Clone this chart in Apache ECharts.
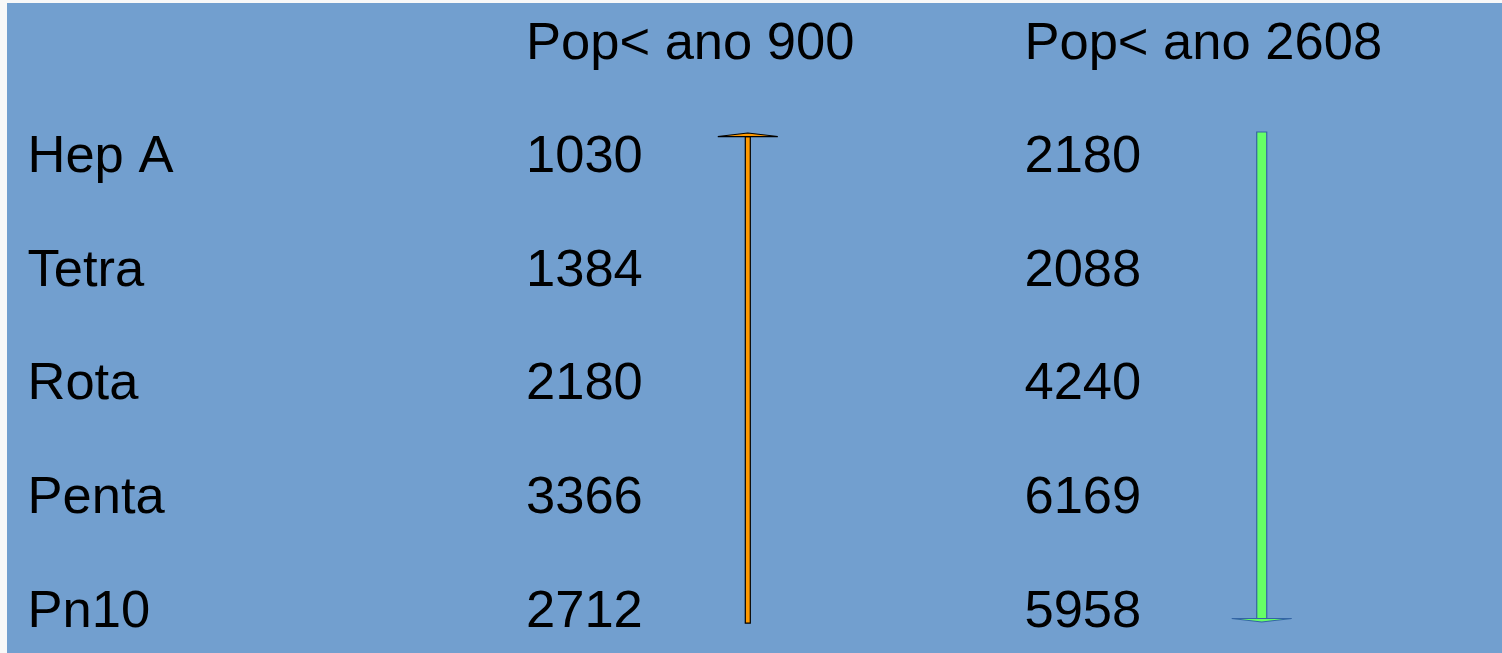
<!DOCTYPE html>
<html>
<head>
<meta charset="utf-8">
<script src="https://cdn.jsdelivr.net/npm/echarts@6/dist/echarts.min.js"></script>
<style>
  html, body { margin: 0; padding: 0; background: #f8f8f8; }
  #chart { width: 1502px; height: 653px; }
</style>
</head>
<body>
<div id="chart"></div>
<script>
// table rows and the two population columns
const rows = ['Hep A', 'Tetra', 'Rota', 'Penta', 'Pn10']
const headers = ['Pop< ano 900', 'Pop< ano 2608']
const pop900 = [1030, 1384, 2180, 3366, 2712]
const pop2608 = [2180, 2088, 4240, 6169, 5958]

// trend arrows: column position, row where the tail sits, row where the head points
const arrowCols = [1.446, 2.477]
const arrowFrom = [4.097, -0.229]
const arrowTo = [-0.22, 4.088]
const arrowFill = ['#ff9900', '#66ff66']
const arrowLine = ['#000000', '#3465a4']
const arrowWidth = [5, 10]

const FONT = 'Liberation Sans, Arial, sans-serif'

const chart = echarts.init(document.getElementById('chart'))

const textSeries = (name, data) => ({
  name,
  type: 'scatter',
  symbolSize: 1,
  silent: true,
  itemStyle: { color: 'rgba(0,0,0,0)', opacity: 1 },
  label: {
    show: true,
    position: 'right',
    distance: 0,
    fontFamily: FONT,
    fontSize: 52.5,
    color: '#000000',
    opacity: 1,
    formatter: p => data[p.dataIndex].text
  },
  data: data.map(d => d.pos)
})

const option = {
  animation: false,
  backgroundColor: '#f8f8f8',
  graphic: [{
    type: 'rect',
    left: 7,
    top: 3,
    z: -10,
    shape: { width: 1495, height: 650 },
    style: { fill: '#729fcf' }
  }],
  grid: { left: 27, top: 0, right: 0, bottom: 0 },
  xAxis: { type: 'value', min: 0, max: 2.959, show: false },
  yAxis: { type: 'value', inverse: true, min: -1.392, max: 4.361, show: false },
  series: [
    textSeries('rows', rows.map((r, i) => ({ pos: [0, i], text: r }))),
    textSeries('headers', headers.map((h, i) => ({ pos: [i + 1, -1], text: h }))),
    textSeries('pop900', pop900.map((v, i) => ({ pos: [1, i], text: String(v) }))),
    textSeries('pop2608', pop2608.map((v, i) => ({ pos: [2, i], text: String(v) }))),
    {
      name: 'arrows',
      type: 'custom',
      silent: true,
      data: arrowCols.map((c, i) => [c, arrowFrom[i], arrowTo[i], i]),
      renderItem: (params, api) => {
        const i = api.value(3)
        const tail = api.coord([api.value(0), api.value(1)])
        const head = api.coord([api.value(0), api.value(2)])
        const dir = head[1] < tail[1] ? -1 : 1
        const w = arrowWidth[i]
        const headH = 3.5
        const headW = 30
        const baseY = head[1] - dir * headH
        return {
          type: 'group',
          children: [
            {
              type: 'rect',
              shape: {
                x: tail[0] - w / 2,
                y: Math.min(tail[1], baseY),
                width: w,
                height: Math.abs(baseY - tail[1])
              },
              style: { fill: arrowFill[i], stroke: arrowLine[i], lineWidth: 1.2 }
            },
            {
              type: 'polygon',
              shape: {
                points: [
                  [head[0] - headW, baseY],
                  [head[0] + headW, baseY],
                  [head[0], head[1]]
                ]
              },
              style: { fill: arrowFill[i], stroke: arrowLine[i], lineWidth: 1.2 }
            }
          ]
        }
      }
    }
  ]
}

chart.setOption(option)
</script>
</body>
</html>
